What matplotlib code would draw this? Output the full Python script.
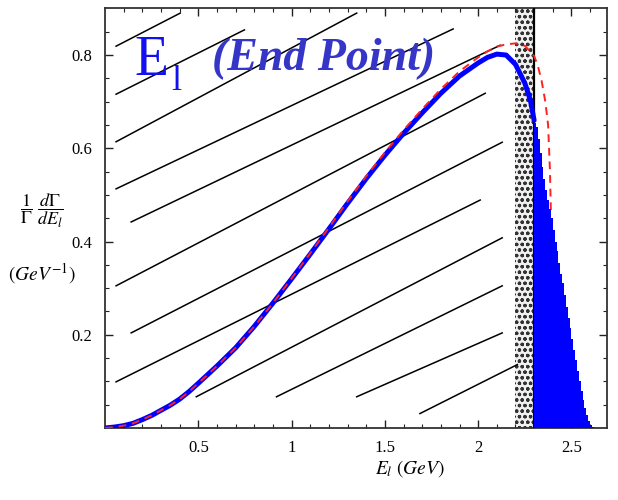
import matplotlib
matplotlib.use("Agg")
import matplotlib.pyplot as plt
import numpy as np

# ---------------- data ----------------
blue_x = [0.0, 0.05, 0.1, 0.15, 0.2, 0.25, 0.3, 0.35, 0.4, 0.45, 0.5, 0.6, 0.7, 0.8, 0.9,
          1.0, 1.1, 1.2, 1.3, 1.4, 1.5, 1.6, 1.7, 1.8, 1.9, 2.0, 2.05, 2.1, 2.15, 2.2,
          2.25, 2.28, 2.30]
blue_y = [0.0, 0.002, 0.005, 0.01, 0.018, 0.027, 0.038, 0.049, 0.062, 0.078, 0.096, 0.133,
          0.172, 0.218, 0.268, 0.32, 0.373, 0.427, 0.482, 0.535, 0.585, 0.632, 0.676, 0.718,
          0.755, 0.783, 0.795, 0.802, 0.80, 0.78, 0.74, 0.703, 0.66]

red_x = [0.0, 0.05, 0.1, 0.15, 0.2, 0.25, 0.3, 0.35, 0.4, 0.45, 0.5, 0.6, 0.7, 0.8, 0.9,
         1.0, 1.1, 1.2, 1.3, 1.4, 1.5, 1.6, 1.7, 1.8, 1.9, 2.0, 2.05, 2.1, 2.15, 2.2,
         2.25, 2.3, 2.32, 2.34, 2.36, 2.375, 2.385, 2.39]
red_y = [0.0, 0.002, 0.005, 0.01, 0.018, 0.027, 0.038, 0.049, 0.062, 0.078, 0.096, 0.133,
         0.172, 0.218, 0.268, 0.321, 0.375, 0.43, 0.486, 0.54, 0.591, 0.639, 0.684, 0.727,
         0.765, 0.795, 0.808, 0.818, 0.823, 0.825, 0.82, 0.798, 0.777, 0.745, 0.70, 0.65,
         0.55, 0.46]

# stepped (histogram) tail beyond the cut
tail_edges = [2.30, 2.31, 2.32, 2.33, 2.34, 2.35, 2.36, 2.37, 2.38, 2.39, 2.40, 2.41,
              2.42, 2.43, 2.44, 2.45, 2.46, 2.47, 2.48, 2.49, 2.50, 2.51, 2.52, 2.53,
              2.54, 2.55, 2.56, 2.57, 2.58, 2.59, 2.60, 2.61, 2.62]
tail_vals = [0.655, 0.645, 0.62, 0.59, 0.56, 0.535, 0.51, 0.49, 0.47, 0.45, 0.425, 0.40,
             0.38, 0.355, 0.33, 0.31, 0.285, 0.26, 0.237, 0.214, 0.19, 0.167, 0.145, 0.122,
             0.10, 0.08, 0.06, 0.042, 0.027, 0.015, 0.007, 0.003]

# cut band and cut line
band_lo, band_hi = 2.195, 2.30
cut_x = 2.30

# diagonal hatch lines (x0, y0, x1, y1) in data units
diag_x0 = [0.059, 0.059, 0.059, 0.059, 0.140, 0.059, 0.140, 0.059, 0.489, 0.919, 1.349, 1.688]
diag_y0 = [0.819, 0.716, 0.614, 0.513, 0.442, 0.305, 0.204, 0.099, 0.067, 0.067, 0.067, 0.031]
diag_x1 = [0.403, 0.747, 1.349, 1.866, 2.118, 2.038, 2.129, 2.011, 2.129, 2.129, 2.129, 2.210]
diag_y1 = [0.890, 0.854, 0.890, 0.856, 0.821, 0.718, 0.613, 0.489, 0.408, 0.305, 0.204, 0.136]

xticks = [0.5, 1.0, 1.5, 2.0, 2.5]
xticklabels = ["0.5", "1", "1.5", "2", "2.5"]
yticks = [0.2, 0.4, 0.6, 0.8]
yticklabels = ["0.2", "0.4", "0.6", "0.8"]

# ---------------- figure ----------------
plt.rcParams['hatch.linewidth'] = 0.9
plt.rcParams['mathtext.fontset'] = 'stix'

fig = plt.figure(figsize=(6.18, 5.0), dpi=100)
ax = fig.add_axes([0.170, 0.144, 0.812, 0.841])
ax.set_xlim(0.0, 2.69)
ax.set_ylim(0.0, 0.902)

# hatched band
ax.fill_betweenx([0, 0.902], band_lo, band_hi, facecolor="#f0f0f0",
                 edgecolor="#333333", hatch="ooo", linewidth=0, zorder=1)

# diagonal lines
for x0, y0, x1, y1 in zip(diag_x0, diag_y0, diag_x1, diag_y1):
    ax.plot([x0, x1], [y0, y1], color="black", lw=1.1, zorder=2)

# cut line
ax.axvline(cut_x, color="black", lw=1.6, zorder=3)

# blue curve
ax.plot(blue_x, blue_y, color="#0000ff", lw=3.6, solid_capstyle="round",
        solid_joinstyle="round", zorder=4)

# red dashed curve
ax.plot(red_x, red_y, color="#ff2020", lw=1.4, dashes=(4, 3), zorder=5)

# blue stepped tail
tx = np.array(tail_edges)
ty = np.array(tail_vals + [tail_vals[-1]])
ax.fill_between(tx, 0, ty, step="post", color="#0000ff", linewidth=0, zorder=6)

# ticks
ax.set_xticks(xticks)
ax.set_xticklabels(xticklabels)
ax.set_yticks(yticks)
ax.set_yticklabels(yticklabels)
ax.set_xticks(np.arange(0.1, 2.7, 0.1), minor=True)
ax.set_yticks(np.arange(0.05, 0.9, 0.05), minor=True)
ax.tick_params(which="both", direction="in", top=True, right=True, color="#222222")
ax.tick_params(which="major", length=6, width=1.0, labelsize=12, pad=9)
ax.tick_params(which="minor", length=3, width=0.8)
for lab in ax.get_xticklabels() + ax.get_yticklabels():
    lab.set_family("Liberation Serif")
for s in ax.spines.values():
    s.set_linewidth(1.3)
    s.set_color("#333333")

# title text
ax.text(0.156, 0.757, "E", family="Liberation Serif", fontsize=40, color="#1010f0",
        ha="left", va="baseline", zorder=7)
ax.text(0.355, 0.725, "l", family="Liberation Serif", fontsize=26, color="#1010f0",
        ha="left", va="baseline", zorder=7)
ax.text(0.575, 0.768, "(End Point)", family="Liberation Serif", fontsize=33,
        fontweight="bold", style="italic", color="#3535c8", ha="left", va="baseline", zorder=7)

# axis labels
fig.text(0.068, 0.578, r"$\dfrac{\mathrm{1}}{\Gamma}\ \dfrac{d\Gamma}{dE_l}$", fontsize=13,
         ha="center", va="center")
fig.text(0.068, 0.452, r"$(GeV^{-1})$", fontsize=14, ha="center", va="center")
fig.text(0.663, 0.062, r"$E_l\ (GeV)$", fontsize=14, ha="center", va="center")

fig.savefig("out.png", dpi=100)
